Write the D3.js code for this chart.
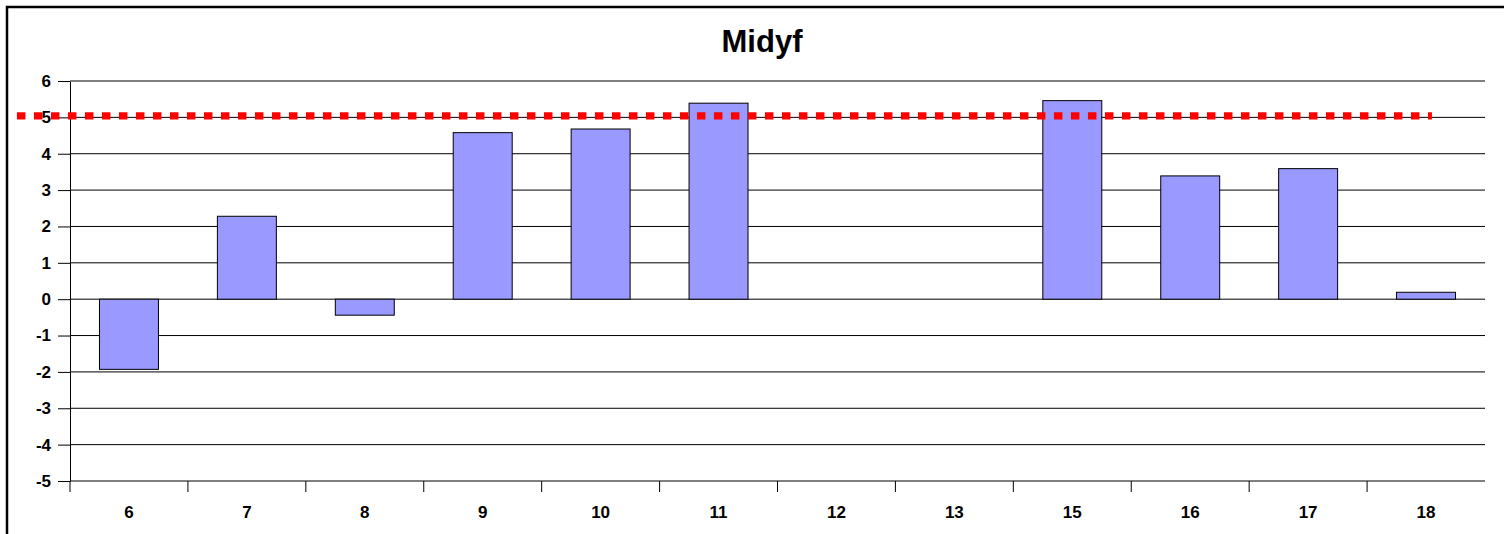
<!DOCTYPE html>
<html>
<head>
<meta charset="utf-8">
<script src="https://cdn.jsdelivr.net/npm/d3@7"></script>
<style>
  body { margin: 0; background: #fff; }
  svg { display: block; font-family: "Liberation Sans", Arial, sans-serif; }
</style>
</head>
<body>
<svg width="1504" height="534"></svg>
<script>
const title = 'Midyf';
const categories = ['6', '7', '8', '9', '10', '11', '12', '13', '15', '16', '17', '18'];
const values = [-1.93, 2.28, -0.44, 4.58, 4.68, 5.39, null, null, 5.46, 3.39, 3.59, 0.19];
const yTicks = [-5, -4, -3, -2, -1, 0, 1, 2, 3, 4, 5, 6];
const targetValue = 5.04;

const svg = d3.select('svg');
const margin = { top: 81, right: 19, bottom: 53, left: 70 };
const width = 1504, height = 534;
const innerWidth = width - margin.left - margin.right;
const innerHeight = height - margin.top - margin.bottom;

// chart frame (clipped by the window on the right and bottom)
svg.append('rect')
    .attr('x', 7).attr('y', 7)
    .attr('width', 1520).attr('height', 560)
    .attr('fill', 'none')
    .attr('stroke', '#000')
    .attr('stroke-width', 2.5);

svg.append('text')
    .attr('x', 762).attr('y', 52)
    .attr('text-anchor', 'middle')
    .attr('font-size', 31)
    .attr('font-weight', 'bold')
    .text(title);

const yScale = d3.scaleLinear()
    .domain([d3.min(yTicks), d3.max(yTicks)])
    .range([innerHeight, 0]);

const xOuter = d3.scaleBand()
    .domain(categories)
    .range([0, innerWidth])
    .padding(0);

const xBar = d3.scaleBand()
    .domain(categories)
    .range([0, innerWidth])
    .paddingInner(0.5)
    .paddingOuter(0.25);

const g = svg.append('g')
    .attr('transform', `translate(${margin.left}, ${margin.top})`);

// gridlines
g.append('g').selectAll('line').data(yTicks)
    .enter().append('line')
        .attr('x1', 0).attr('x2', innerWidth)
        .attr('y1', d => yScale(d)).attr('y2', d => yScale(d))
        .attr('stroke', '#000')
        .attr('stroke-width', 1);

// y axis
const yAxis = g.append('g')
    .call(d3.axisLeft(yScale)
        .tickValues(yTicks)
        .tickFormat(d => String(d))
        .tickSize(12).tickSizeOuter(0).tickPadding(7));
yAxis.attr('font-size', 17).attr('font-family', null);
yAxis.selectAll('text')
    .attr('font-weight', 'bold')
    .attr('fill', '#000');
yAxis.select('.domain').attr('stroke', '#000');

// category boundary ticks
const step = xOuter.step();
g.append('g').selectAll('line').data(categories)
    .enter().append('line')
        .attr('x1', d => xOuter(d)).attr('x2', d => xOuter(d))
        .attr('y1', innerHeight).attr('y2', innerHeight + 11)
        .attr('stroke', '#000');

// category labels
g.append('g').selectAll('text').data(categories)
    .enter().append('text')
        .attr('x', d => xOuter(d) + step / 2)
        .attr('y', innerHeight + 37)
        .attr('text-anchor', 'middle')
        .attr('font-size', 17)
        .attr('font-weight', 'bold')
        .text(d => d);

// bars
const data = categories.map((c, i) => ({ c, v: values[i] })).filter(d => d.v !== null);
g.selectAll('rect.bar').data(data)
    .enter().append('rect')
        .attr('class', 'bar')
        .attr('x', d => xBar(d.c))
        .attr('y', d => yScale(Math.max(0, d.v)))
        .attr('width', xBar.bandwidth())
        .attr('height', d => Math.abs(yScale(d.v) - yScale(0)))
        .attr('fill', '#9999FF')
        .attr('stroke', '#000')
        .attr('stroke-width', 1);

// target line (spans 12 bands, shifted left by ~0.45 band)
g.append('line')
    .attr('x1', -0.45 * step)
    .attr('x2', (categories.length - 0.45) * step)
    .attr('y1', yScale(targetValue)).attr('y2', yScale(targetValue))
    .attr('stroke', '#FF0000')
    .attr('stroke-width', 7.3)
    .attr('stroke-dasharray', '8.5 8.5');
</script>
</body>
</html>
